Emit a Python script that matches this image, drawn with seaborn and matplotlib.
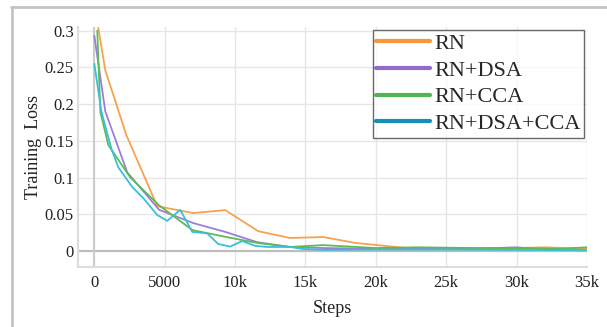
import matplotlib
matplotlib.use('Agg')
import matplotlib.pyplot as plt
from matplotlib.lines import Line2D
import seaborn as sns
import pandas as pd

# training loss curves
rn_steps = [280, 780, 2270, 4470, 7030, 9300, 11640, 13900, 16260, 18530, 20090,
            22220, 25000, 28000, 30000, 32000, 35000]
rn_loss = [0.304, 0.246, 0.158, 0.061, 0.0516, 0.0557, 0.027, 0.0177, 0.019, 0.011,
           0.008, 0.004, 0.004, 0.0035, 0.004, 0.005, 0.003]

dsa_steps = [0, 780, 2340, 4610, 7030, 9300, 11570, 13900, 16260, 20000, 23000,
             27000, 30000, 32000, 35000]
dsa_loss = [0.293, 0.19, 0.107, 0.056, 0.038, 0.026, 0.012, 0.0055, 0.004, 0.003,
            0.003, 0.003, 0.005, 0.002, 0.001]

cca_steps = [210, 430, 1000, 2560, 4610, 6960, 9650, 11570, 13900, 16260, 20000,
             23000, 27000, 30000, 33000, 35000]
cca_loss = [0.30, 0.189, 0.144, 0.10, 0.062, 0.0285, 0.018, 0.011, 0.0055, 0.008,
            0.004, 0.005, 0.004, 0.004, 0.003, 0.005]

all_steps = [0, 500, 1200, 1700, 2700, 3480, 4470, 5180, 6100, 6960, 8020, 8800,
             9650, 10500, 11430, 12280, 13900, 14840, 16260, 20000, 25000, 30000, 35000]
all_loss = [0.255, 0.19, 0.14, 0.114, 0.087, 0.072, 0.049, 0.041, 0.056, 0.026, 0.024,
            0.0095, 0.006, 0.0135, 0.007, 0.0055, 0.0055, 0.0027, 0.0015, 0.002,
            0.002, 0.0015, 0.001]

labels = ['RN', 'RN+DSA', 'RN+CCA', 'RN+DSA+CCA']
line_colors = ['#f7a24e', '#9b7fd6', '#5cbc54', '#38c0d6']
legend_colors = ['#f6983a', '#8e6cc8', '#52b554', '#1591b5']

frames = []
for name, xs, ys in zip(labels, [rn_steps, dsa_steps, cca_steps, all_steps],
                        [rn_loss, dsa_loss, cca_loss, all_loss]):
    frames.append(pd.DataFrame({'Steps': xs, 'Loss': ys, 'Model': name}))
df = pd.concat(frames, ignore_index=True)

sns.set_theme(style='white')
plt.rcParams['font.family'] = ['Liberation Serif', 'DejaVu Serif']

fig = plt.figure(figsize=(6.07, 3.27), dpi=100)
ax = fig.add_axes([78 / 607, 1 - 267 / 327, (587 - 78) / 607, (267 - 27) / 327])

sns.lineplot(data=df, x='Steps', y='Loss', hue='Model', hue_order=labels,
             palette=line_colors, linewidth=1.3, ax=ax, legend=False, zorder=3)

ax.set_xlim(-1160, 35000)
ax.set_ylim(-0.0218, 0.305)
ax.set_xticks([0, 5000, 10000, 15000, 20000, 25000, 30000, 35000])
ax.set_xticklabels(['0', '5000', '10k', '15k', '20k', '25k', '30k', '35k'])
ax.set_yticks([0, 0.05, 0.1, 0.15, 0.2, 0.25, 0.3])
ax.set_yticklabels(['0', '0.05', '0.1', '0.15', '0.2', '0.25', '0.3'])
ax.tick_params(axis='both', labelsize=12, length=0, colors='#222222')
ax.tick_params(axis='x', pad=6)
ax.tick_params(axis='y', pad=3)

ax.grid(True, color='#e6e6e6', linewidth=1.0)
ax.set_axisbelow(True)
ax.axhline(0, color='#bdbdbd', linewidth=1.5, zorder=1)
ax.axvline(0, color='#cccccc', linewidth=1.5, zorder=1)
for side in ['top', 'right']:
    ax.spines[side].set_visible(False)
for side in ['left', 'bottom']:
    ax.spines[side].set_color('#dddddd')
    ax.spines[side].set_linewidth(1.5)

ax.set_xlabel('Steps', fontsize=13, color='#222222', labelpad=6)
ax.set_ylabel('Training  Loss', fontsize=13, color='#222222', labelpad=2)

handles = [Line2D([], [], color=c, linewidth=3) for c in legend_colors]
leg = ax.legend(handles, labels, loc='upper right',
                fontsize=16, frameon=True, fancybox=False, handlelength=2.4,
                handletextpad=0.2, labelspacing=0.28, borderpad=0.15, borderaxespad=0.0)
leg.get_frame().set_edgecolor('#444444')
leg.get_frame().set_linewidth(1.0)
leg.set_bbox_to_anchor((584 / 607, 1 - 30 / 327), transform=fig.transFigure)

# outer frame of the screenshot
fig.add_artist(Line2D([11 / 607, 1], [1 - 7 / 327, 1 - 7 / 327], color='#c4c4c4', linewidth=2))
fig.add_artist(Line2D([12 / 607, 12 / 607], [0, 1 - 7 / 327], color='#c4c4c4', linewidth=2))

fig.savefig('out.png', dpi=100)
